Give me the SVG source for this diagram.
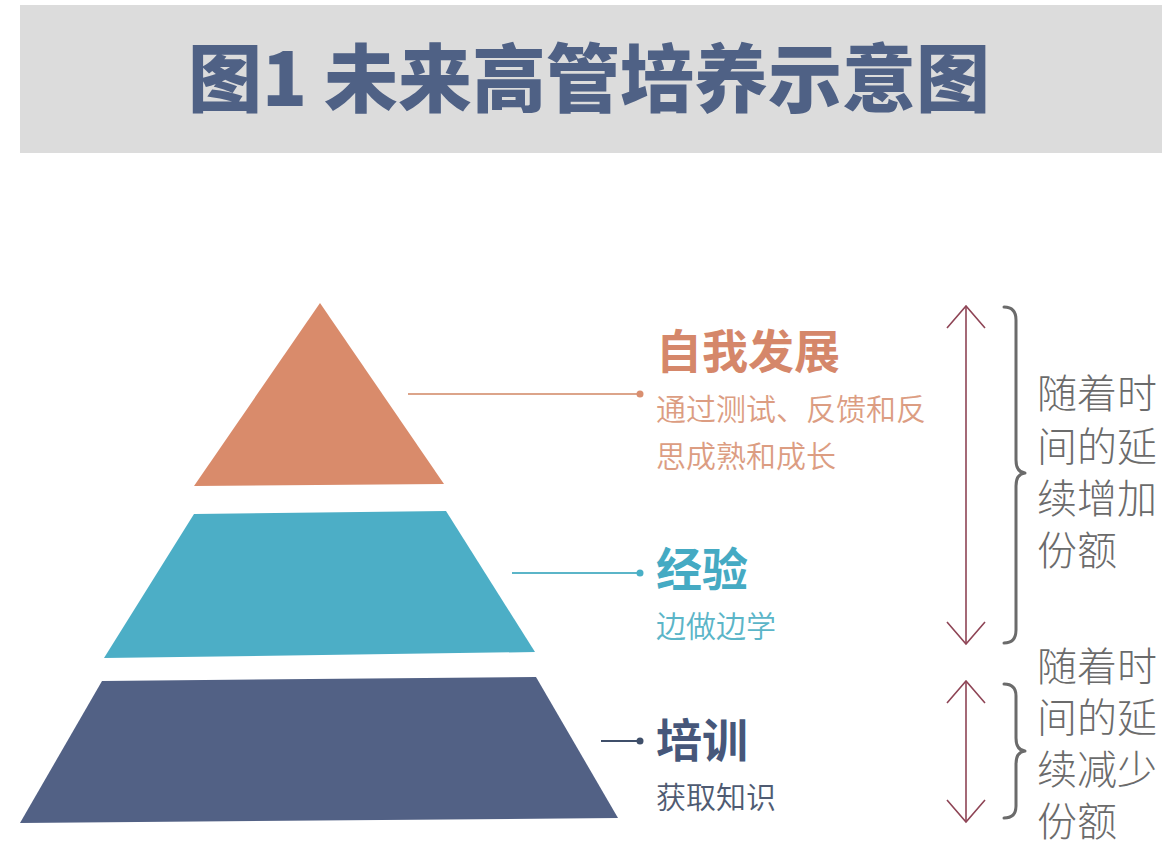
<svg xmlns="http://www.w3.org/2000/svg" width="1176" height="856" viewBox="0 0 1176 856">
<defs>
<style>
.cjk{font-family:"Noto Sans CJK SC","Noto Sans",sans-serif;}
.title{font-size:74px;font-weight:900;fill:#4f6185;}
.h{font-size:46px;font-weight:700;}
.s{font-size:30px;font-weight:350;}
.r{font-size:40px;font-weight:300;fill:#6b6b6b;}
.conn{stroke-width:2;fill:none;}
.brace{stroke:#6b6b6b;stroke-width:3;fill:none;stroke-linecap:round;stroke-linejoin:round;}
.arr{stroke:#8e4455;stroke-width:1.6;fill:none;marker-start:url(#chev);marker-end:url(#chev);}
</style>
<marker id="chev" viewBox="-24 -24 48 48" markerWidth="48" markerHeight="48" refX="0" refY="0" orient="auto-start-reverse" markerUnits="userSpaceOnUse">
<path d="M-22,-19 L0,0 L-22,19" fill="none" stroke="#8e4455" stroke-width="1.6"/>
</marker>
</defs>
<rect width="1176" height="856" fill="#ffffff"/>
<g id="header">
<rect x="20" y="5" width="1142" height="148" fill="#dcdcdc"/>
<text class="cjk title" x="589" y="106" text-anchor="middle">图1 未来高管培养示意图</text>
</g>
<g id="connectors">
<line class="conn" x1="408" y1="394" x2="640" y2="394" stroke="#dca48a"/>
<circle cx="640" cy="394" r="3.5" fill="#d98f70"/>
<line class="conn" x1="512" y1="573" x2="640" y2="573" stroke="#5bb5c8"/>
<circle cx="640" cy="573" r="3.5" fill="#49afc6"/>
<line class="conn" x1="601" y1="741" x2="640" y2="741" stroke="#3f4f6a"/>
<circle cx="640" cy="741" r="3.5" fill="#3f4f6a"/>
</g>
<g id="tier-top">
<polygon points="320,303 444,484 194,486" fill="#d98b6b"/>
<text class="cjk h" x="656" y="368" fill="#d5876a">自我发展</text>
<text class="cjk s" fill="#dc9d82"><tspan x="656" y="420">通过测试、反馈和反</tspan><tspan x="656" y="467">思成熟和成长</tspan></text>
</g>
<g id="tier-mid">
<polygon points="194,514 446,511 535,652 104,658" fill="#4caec6"/>
<text class="cjk h" x="656" y="586" fill="#45aac3">经验</text>
<text class="cjk s" x="656" y="637" fill="#5bb5c8">边做边学</text>
</g>
<g id="tier-bottom">
<polygon points="102,681 536,677 618,818 20,823" fill="#526185"/>
<text class="cjk h" x="656" y="757" fill="#46577a">培训</text>
<text class="cjk s" x="656" y="808" fill="#4f5b72">获取知识</text>
</g>
<g id="increase">
<line class="arr" x1="966" y1="306" x2="966" y2="644"/>
<path class="brace" d="M1004,307 Q1016,307 1016,320 L1016,460 Q1016,472 1025,473 Q1016,474 1016,486 L1016,630 Q1016,643 1004,643"/>
<text class="cjk r"><tspan x="1037" y="408">随着时</tspan><tspan x="1037" y="461">间的延</tspan><tspan x="1037" y="513">续增加</tspan><tspan x="1037" y="565">份额</tspan></text>
</g>
<g id="decrease">
<line class="arr" x1="966" y1="681" x2="966" y2="822"/>
<path class="brace" d="M1004,684 Q1016,684 1016,696 L1016,738 Q1016,750 1025,751 Q1016,752 1016,764 L1016,806 Q1016,818 1004,818"/>
<text class="cjk r"><tspan x="1037" y="681">随着时</tspan><tspan x="1037" y="732">间的延</tspan><tspan x="1037" y="784">续减少</tspan><tspan x="1037" y="836">份额</tspan></text>
</g>
</svg>
